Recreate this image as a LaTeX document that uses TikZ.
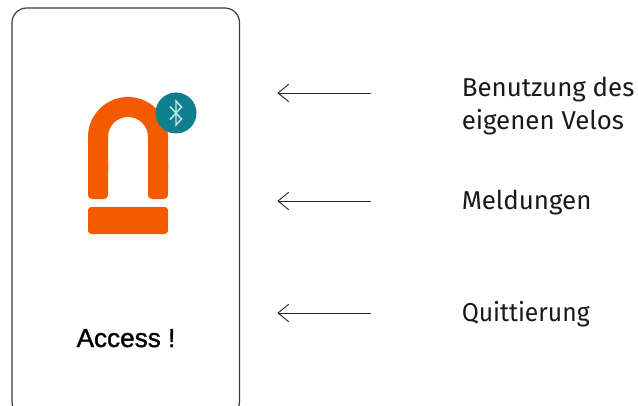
\documentclass[tikz,border=0pt]{standalone}
\usepackage{fontspec}
\setmainfont{Fira Sans}
\newfontfamily\accessfont[RawFeature={embolden=1.3}]{Liberation Sans}
\definecolor{lockorange}{HTML}{F45B00}
\definecolor{btteal}{HTML}{0E7F8C}
\definecolor{btwhite}{HTML}{C8E6EA}
\definecolor{framegray}{HTML}{3A3A3A}
\tikzset{
  x=0.75pt,y=-0.75pt,
  flow/.style={draw=black!85,line width=0.7pt},
  lbl/.style={anchor=base west,inner sep=0pt,font=\fontsize{19.4}{22}\selectfont,text=black!90},
}
\begin{document}
\begin{tikzpicture}
\useasboundingbox (0,0) rectangle (638,406);
\begin{scope}
\clip (0,0) rectangle (638,406);
\draw[draw=framegray,line width=0.9pt,rounded corners=11pt] (12,8) rectangle (239.5,416);
\end{scope}
% lock
\fill[lockorange,rounded corners=3pt] (88,160) -- (88,199) -- (108,199) -- (108,160) -- cycle;
\fill[lockorange,rounded corners=3pt] (148,160) -- (148,199) -- (168,199) -- (168,160) -- cycle;
\fill[lockorange] (88,137) arc[start angle=180,end angle=360,radius=40] -- (168,170) -- (148,170) -- (148,137) arc[start angle=360,end angle=180,radius=20] -- (108,170) -- (88,170) -- cycle;
\fill[lockorange,rounded corners=2.5pt] (88,207) rectangle (168,234);
% bluetooth
\fill[btteal] (176,113) circle[radius=20.5];
\draw[btwhite,line width=1.1pt,line join=miter] (170,106.5) -- (181.5,119) -- (176,125) -- (176,101) -- (181.5,107) -- (170,119.5);
% text
\node[inner sep=0pt,anchor=base,font=\accessfont\fontsize{19.6}{20}\selectfont,text=black] (access) at (126,347) {Access !};
\node[lbl] (t1) at (461.5,97) {Benutzung des};
\node[lbl] (t1b) at (461.5,130) {eigenen Velos};
\node[lbl] (t2) at (461.5,209) {Meldungen};
\node[lbl,xscale=0.955] (t3) at (461.5,321) {Quittierung};
% arrows
\coordinate (a1s) at (371,93); \coordinate (a1e) at (278,93);
\coordinate (a2s) at (371,201); \coordinate (a2e) at (278,201);
\coordinate (a3s) at (371,313); \coordinate (a3e) at (278,313);
\foreach \s/\e in {a1s/a1e,a2s/a2e,a3s/a3e}{
  \draw[flow] (\s) -- (\e);
  \draw[flow,line join=miter] ([xshift=8pt,yshift=6.5pt]\e) -- (\e) -- ([xshift=8pt,yshift=-6.5pt]\e);
}
\end{tikzpicture}
\end{document}
